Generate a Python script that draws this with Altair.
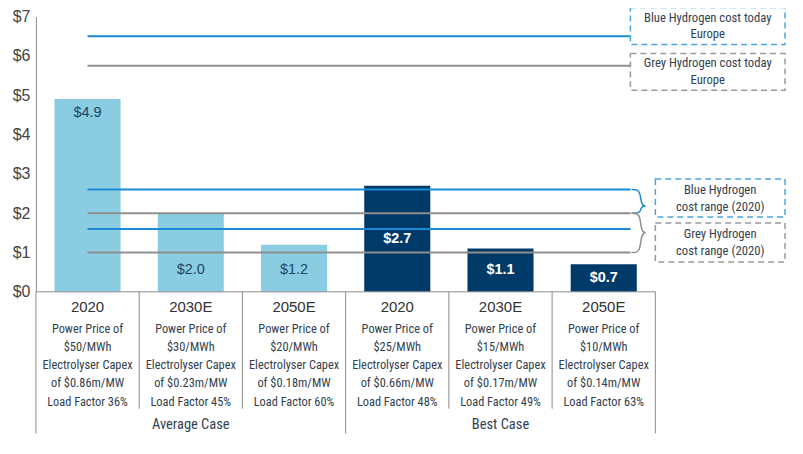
import altair as alt
import pandas as pd

# ---------------- data ----------------
cases = ["Average Case", "Average Case", "Average Case", "Best Case", "Best Case", "Best Case"]
years = ["2020", "2030E", "2050E", "2020", "2030E", "2050E"]
costs = [4.9, 2.0, 1.2, 2.7, 1.1, 0.7]
power_price = [50, 30, 20, 25, 15, 10]
capex = [0.86, 0.23, 0.18, 0.66, 0.17, 0.14]
load_factor = [36, 45, 60, 48, 49, 63]

blue_today = 6.5
grey_today = 5.75
blue_range = [1.6, 2.6]
grey_range = [1.0, 2.0]

y_ticks = [0, 1, 2, 3, 4, 5, 6, 7]
group_names = ["Average Case", "Best Case"]

# ---------------- style ----------------
NARROW = "Liberation Sans Narrow, Arial Narrow, Roboto Condensed, sans-serif"
REG = "Liberation Sans, Arial, sans-serif"
LIGHT = "#8acde2"
NAVY = "#003a68"
BLUE = "#1a8ad6"
GREY = "#8f8f8f"
AXIS = "#8c8c8c"
TXT = "#333f4f"

PX_PER_UNIT = 276 / 7.0  # plot height / y-range

n = len(costs)
bars = pd.DataFrame({
    "pos": [i + 0.5 for i in range(n)],
    "cost": costs,
    "case": cases,
    "year": years,
    "label": [f"${c:.1f}" for c in costs],
    "details": [
        f"Power Price of\n${p}/MWh\nElectrolyser Capex\nof ${c:.2f}m/MW\nLoad Factor {lf}%"
        for p, c, lf in zip(power_price, capex, load_factor)
    ],
    "zero": [0] * n,
})

xs = alt.Scale(domain=[0, 6], nice=False, zero=False)
ys = alt.Scale(domain=[0, 7], nice=False, zero=True)
YAXIS = alt.Axis(values=y_ticks, labelExpr="'$' + datum.value", ticks=False,
                 grid=False, domainColor=AXIS, labelFont=REG, labelFontSize=16,
                 labelColor="#444444", labelPadding=6, title=None)
X = lambda f: alt.X(f, type="quantitative", scale=xs, axis=None)
Y = lambda f: alt.Y(f, type="quantitative", scale=ys, axis=YAXIS, title=None)

base_bars = alt.Chart(bars)

bar_layer = base_bars.transform_calculate(
    x0="datum.pos - 0.32", x1="datum.pos + 0.32"
).mark_rect().encode(
    x=X("x0"), x2="x1:Q",
    y=Y("cost"),
    y2="zero:Q",
    color=alt.Color("case:N", scale=alt.Scale(domain=group_names, range=[LIGHT, NAVY]), legend=None),
)

# reference lines
ref = pd.DataFrame({
    "y": [blue_today, grey_today, blue_range[1], grey_range[1], blue_range[0], grey_range[0]],
    "kind": ["blue", "grey", "blue", "grey", "blue", "grey"],
})
ref_layer = alt.Chart(ref).transform_calculate(xa="0.5", xb="5.76").mark_rule(strokeWidth=2).encode(
    x=X("xa"), x2="xb:Q", y=Y("y"),
    color=alt.Color("kind:N", scale=alt.Scale(domain=["blue", "grey"], range=[BLUE, GREY]), legend=None),
)

# braces
def brace(top, bot, tip_frac, name):
    x0, w = 5.77, 0.16
    mid = bot + (top - bot) * tip_frac
    pts = [(0, top), (0.55, top), (0.55, mid), (1.0, mid), (0.55, mid), (0.55, bot), (0, bot)]
    return [{"bx": x0 + px * w, "by": py, "i": k, "b": name} for k, (px, py) in enumerate(pts)]

br = pd.DataFrame(brace(blue_range[1], grey_range[1], 0.3, "blue") + brace(grey_range[1], grey_range[0], 0.5, "grey"))
brace_layer = alt.Chart(br).mark_line(interpolate="basis", strokeWidth=1.5).encode(
    x=X("bx"), y=Y("by"), order="i:Q", detail="b:N",
    color=alt.Color("b:N", scale=alt.Scale(domain=["blue", "grey"], range=[BLUE, GREY]), legend=None),
)

# annotation boxes
def py(p):
    return (292 - p) / PX_PER_UNIT

def pxx(p):
    return (p - 36) / 103.5

boxes = pd.DataFrame({
    "x1": [pxx(632), pxx(632), pxx(657), pxx(657)],
    "x2": [pxx(787), pxx(787), pxx(787), pxx(787)],
    "y1": [py(7), py(53), py(179), py(223)],
    "y2": [py(44), py(90), py(217), py(262)],
    "kind": ["blue", "grey", "blue", "grey"],
    "text": ["Blue Hydrogen cost today\nEurope", "Grey Hydrogen cost today\nEurope",
             "Blue Hydrogen\ncost range (2020)", "Grey Hydrogen\ncost range (2020)"],
})
box_layer = alt.Chart(boxes).mark_rect(fillOpacity=0, strokeWidth=1.5, strokeDash=[6, 4]).encode(
    x=X("x1"), x2="x2:Q", y=Y("y1"), y2="y2:Q",
    stroke=alt.Stroke("kind:N", scale=alt.Scale(domain=["blue", "grey"], range=["#4aa6e0", "#9a9a9a"]), legend=None),
)
box_text = alt.Chart(boxes).transform_calculate(
    xc="(datum.x1 + datum.x2) / 2", yc="(datum.y1 + datum.y2) / 2"
).mark_text(font=NARROW, fontSize=12.7, color=TXT, lineBreak="\n", lineHeight=17,
            baseline="middle", align="center", dy=-8.5).encode(
    x=X("xc"), y=Y("yc"), text="text:N",
)

# bar value labels
lab_top = base_bars.transform_filter("datum.pos < 1").mark_text(
    font=REG, fontSize=14.5, color="#1d4565", baseline="middle", dy=14).encode(
    x=X("pos"), y=Y("cost"), text="label:N")
lab_low = base_bars.transform_filter("datum.pos > 1 && datum.case == 'Average Case'").mark_text(
    font=REG, fontSize=14.5, color="#1d4565", baseline="middle", dy=-22).encode(
    x=X("pos"), y=Y("zero"), text="label:N")
lab_dark = base_bars.transform_filter("datum.case == 'Best Case'").transform_calculate(
    half="datum.cost / 2").mark_text(
    font=REG, fontSize=14.5, fontWeight="bold", color="white", baseline="middle").encode(
    x=X("pos"), y=Y("half"), text="label:N")

# category labels
year_text = base_bars.mark_text(font=REG, fontSize=15, color="#333333", baseline="middle", dy=15).encode(
    x=X("pos"), y=Y("zero"), text="year:N")
det_text = base_bars.mark_text(font=NARROW, fontSize=12.4, color=TXT, baseline="top", dy=31,
                               lineBreak="\n", lineHeight=18.3).encode(
    x=X("pos"), y=Y("zero"), text="details:N")

groups = pd.DataFrame({"g": group_names, "gx": [1.5, 4.5], "zero": [0, 0]})
group_text = alt.Chart(groups).mark_text(font=NARROW, fontSize=14.5, color=TXT, baseline="middle", dy=134).encode(
    x=X("gx"), y=Y("zero"), text="g:N")

# axis baseline & separators
seps = pd.DataFrame({
    "sx": [0, 1, 2, 3, 4, 5, 6],
    "top": [0] * 7,
    "bot": [-3.6, -2.97, -2.97, -3.6, -2.97, -2.97, -3.6],
})
sep_layer = alt.Chart(seps).mark_rule(color=AXIS, strokeWidth=1).encode(
    x=X("sx"), y=Y("top"), y2="bot:Q")
base_line = alt.Chart(pd.DataFrame({"a": [0], "b": [6], "z": [0]})).mark_rule(color=AXIS, strokeWidth=1).encode(
    x=X("a"), x2="b:Q", y=Y("z"))

chart = alt.layer(
    bar_layer, ref_layer, brace_layer, box_layer, box_text,
    lab_top, lab_low, lab_dark, year_text, det_text, group_text, sep_layer, base_line,
).resolve_scale(color="independent").properties(
    width=621, height=276,
    background="white",
    autosize=alt.AutoSizeParams(type="none"),
    padding={"left": 28, "top": 8, "right": 140, "bottom": 150},
).configure_view(strokeWidth=0, stroke=None)

chart.save("out.html", embed_options={"renderer": "svg", "actions": False})
